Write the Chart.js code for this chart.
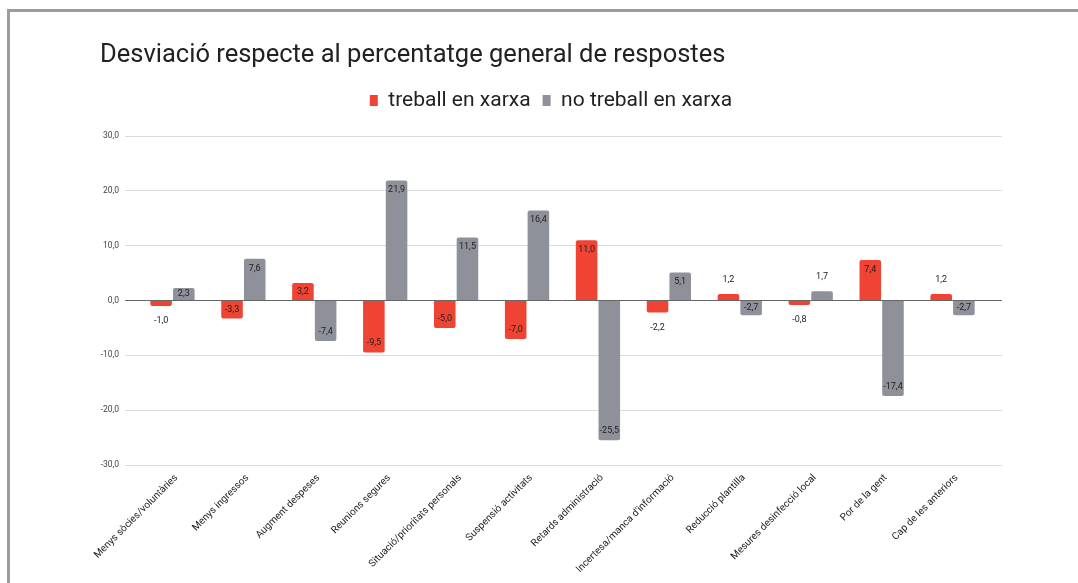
<!DOCTYPE html>
<html>
<head>
<meta charset="utf-8">
<script src="https://cdn.jsdelivr.net/npm/chart.js@4/dist/chart.umd.min.js"></script>
<style>
  html, body { margin: 0; padding: 0; background: #fff; overflow: hidden; }
  .frame { position: absolute; left: 7px; top: 9px; width: 1200px; height: 700px;
           border-top: 3px solid #9c9c9c; border-left: 3px solid #9c9c9c; }
  canvas { position: absolute; left: 0; top: 0; }
</style>
</head>
<body>
<div class="frame"></div>
<canvas id="grafic" width="1078" height="583"></canvas>
<script>
// categories (eix X)
const categories = [
  'Menys sòcies/voluntàries',
  'Menys ingressos',
  'Augment despeses',
  'Reunions segures',
  'Situació/prioritats personals',
  'Suspensió activitats',
  'Retards administració',
  "Incertesa/manca d'informació",
  'Reducció plantilla',
  'Mesures desinfecció local',
  'Por de la gent',
  'Cap de les anteriors'
];

// desviació per grup
const treballEnXarxa = [-1.0, -3.3, 3.2, -9.5, -5.0, -7.0, 11.0, -2.2, 1.2, -0.8, 7.4, 1.2];
const noTreballEnXarxa = [2.3, 7.6, -7.4, 21.9, 11.5, 16.4, -25.5, 5.1, -2.7, 1.7, -17.4, -2.7];

const yMin = -30;
const yMax = 30;
const yStep = 10;

const vermell = '#ef4434';
const gris = '#8e9199';

const fmt = (v) => v.toFixed(1).replace('.', ',');

// etiquetes de valor a cada barra (dins si hi cap, fora si no)
const etiquetesValor = {
  id: 'etiquetesValor',
  afterDatasetsDraw(chart) {
    const ctx = chart.ctx;
    ctx.save();
    ctx.font = '9px Roboto';
    ctx.textAlign = 'center';
    ctx.textBaseline = 'middle';
    ctx.fillStyle = '#222';
    chart.data.datasets.forEach((ds, i) => {
      chart.getDatasetMeta(i).data.forEach((bar, j) => {
        const v = ds.data[j];
        const up = v >= 0;
        const mid = (bar.y + bar.base) / 2;
        let y;
        if (Math.abs(v) > 2.25) {
          y = up ? Math.min(bar.y + 9.5, mid) : Math.max(bar.y - 9.5, mid);
        } else {
          y = up ? bar.y - 14 : bar.y + 15;
        }
        ctx.fillText(fmt(v), bar.x, y);
      });
    });
    ctx.restore();
  }
};

const gridColor = (c) => (c.tick && c.tick.value === 0 ? '#666' : '#dcdcdc');

const ctx = document.getElementById('grafic').getContext('2d');
new Chart(ctx, {
  type: 'bar',
  data: {
    labels: categories,
    datasets: [
      { label: 'treball en xarxa', data: treballEnXarxa, backgroundColor: vermell, borderRadius: 2 },
      { label: 'no treball en xarxa', data: noTreballEnXarxa, backgroundColor: gris, borderRadius: 2 }
    ]
  },
  options: {
    responsive: false,
    animation: false,
    layout: { padding: { left: 100, right: 76, top: 0, bottom: 0 } },
    datasets: { bar: { categoryPercentage: 0.64, barPercentage: 0.95 } },
    plugins: {
      title: {
        display: true,
        text: 'Desviació respecte al percentatge general de respostes',
        align: 'start',
        color: '#222',
        font: { family: 'Roboto', size: 25.5, weight: 'normal' },
        padding: { top: 40, bottom: 7.4 }
      },
      legend: {
        weight: 1800,
        labels: {
          color: '#222',
          font: { family: 'Roboto', size: 21 },
          boxWidth: 8,
          boxHeight: 11,
          padding: 12
        }
      },
      // espai buit entre la llegenda i el gràfic
      subtitle: {
        display: true,
        text: '',
        font: { size: 1, lineHeight: 1 },
        padding: { top: 14, bottom: 0 }
      },
      tooltip: { enabled: false }
    },
    scales: {
      x: {
        grid: { display: false, drawTicks: false },
        border: { display: false },
        ticks: {
          autoSkip: false,
          maxRotation: 45,
          minRotation: 45,
          padding: 7,
          labelOffset: 4,
          color: '#222',
          font: { family: 'Roboto', size: 10 }
        },
        afterFit(s) { s.height = 118; }
      },
      y: {
        min: yMin,
        max: yMax,
        ticks: {
          stepSize: yStep,
          padding: 6,
          color: '#444',
          font: { family: 'Roboto', size: 8.5 },
          callback: (v) => fmt(v)
        },
        grid: { color: gridColor, tickColor: gridColor, tickLength: 12 },
        border: { display: false },
        afterFit(s) { s.width = 37; }
      },
      y2: {
        position: 'right',
        min: yMin,
        max: yMax,
        ticks: { stepSize: yStep, display: false },
        grid: { drawOnChartArea: false, color: gridColor, tickColor: gridColor, tickLength: 14 },
        border: { display: false },
        afterFit(s) { s.width = 14; }
      }
    }
  },
  plugins: [etiquetesValor]
});
</script>
</body>
</html>
